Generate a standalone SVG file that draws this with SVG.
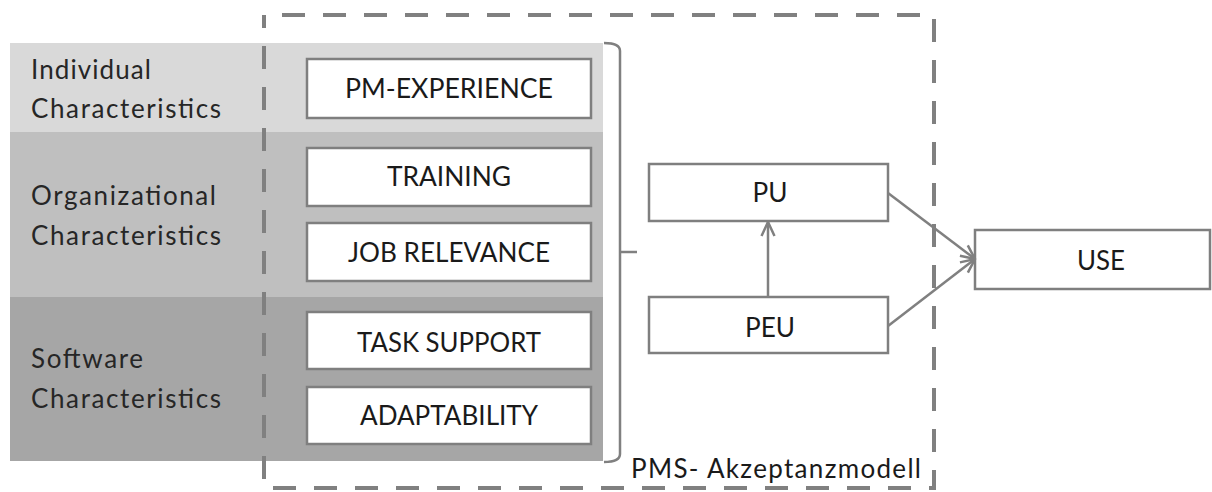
<svg xmlns="http://www.w3.org/2000/svg" width="1212" height="492" viewBox="0 0 1212 492">
  <style>
    text { font-family: Lato, "Open Sans", "Liberation Sans", sans-serif; font-size: 26px; fill: #1a1a1a; }
    .lbl { fill: #262626; }
    .box { fill: #ffffff; stroke: #7f7f7f; stroke-width: 2.5; }
    .c { text-anchor: middle; }
    .edge { fill: none; stroke: #808080; stroke-width: 2.5; }
    .frame { fill: none; stroke: #808080; stroke-width: 4; stroke-dasharray: 23 18; }
  </style>
  <defs>
    <marker id="arrow" viewBox="0 0 16 16" refX="15" refY="8" markerWidth="16" markerHeight="16" markerUnits="userSpaceOnUse" orient="auto">
      <path d="M1,1.5 L15,8 L1,14.5" fill="none" stroke="#808080" stroke-width="2.5"/>
    </marker>
  </defs>

  <!-- grey characteristic bands -->
  <g id="bands">
    <rect x="10" y="43" width="593" height="89" fill="#d9d9d9"/>
    <rect x="10" y="132" width="593" height="165" fill="#bfbfbf"/>
    <rect x="10" y="297" width="593" height="164" fill="#a6a6a6"/>
  </g>

  <g id="label-individual">
    <text class="lbl" x="31" y="79" textLength="120" lengthAdjust="spacing">Individual</text>
    <text class="lbl" x="31" y="118" textLength="190" lengthAdjust="spacing">Characteristics</text>
  </g>
  <g id="label-organizational">
    <text class="lbl" x="31" y="205" textLength="185" lengthAdjust="spacing">Organizational</text>
    <text class="lbl" x="31" y="245" textLength="190" lengthAdjust="spacing">Characteristics</text>
  </g>
  <g id="label-software">
    <text class="lbl" x="31" y="368" textLength="112" lengthAdjust="spacing">Software</text>
    <text class="lbl" x="31" y="408" textLength="190" lengthAdjust="spacing">Characteristics</text>
  </g>

  <!-- dashed model frame -->
  <g id="frame">
    <path class="frame" d="M264,15 L934,15 L934,488 L264,488 Z" stroke-dashoffset="23"/>
    <text x="631" y="478" textLength="290" lengthAdjust="spacing">PMS- Akzeptanzmodell</text>
  </g>

  <g id="pm-experience">
    <rect class="box" x="307" y="59" width="284" height="59"/>
    <text class="c" x="449" y="98" textLength="208" lengthAdjust="spacingAndGlyphs">PM-EXPERIENCE</text>
  </g>
  <g id="training">
    <rect class="box" x="307" y="148" width="284" height="58"/>
    <text class="c" x="449" y="186" textLength="124" lengthAdjust="spacingAndGlyphs">TRAINING</text>
  </g>
  <g id="job-relevance">
    <rect class="box" x="307" y="223" width="284" height="58"/>
    <text class="c" x="449" y="262" textLength="202" lengthAdjust="spacingAndGlyphs">JOB RELEVANCE</text>
  </g>
  <g id="task-support">
    <rect class="box" x="307" y="312" width="284" height="57"/>
    <text class="c" x="449" y="352" textLength="184" lengthAdjust="spacingAndGlyphs">TASK SUPPORT</text>
  </g>
  <g id="adaptability">
    <rect class="box" x="307" y="387" width="284" height="57"/>
    <text class="c" x="449" y="425" textLength="178" lengthAdjust="spacingAndGlyphs">ADAPTABILITY</text>
  </g>

  <g id="pu">
    <rect class="box" x="649" y="164" width="239" height="57"/>
    <text class="c" x="770" y="202" textLength="35" lengthAdjust="spacingAndGlyphs">PU</text>
  </g>
  <g id="peu">
    <rect class="box" x="649" y="297" width="239" height="56"/>
    <text class="c" x="770" y="337" textLength="50" lengthAdjust="spacingAndGlyphs">PEU</text>
  </g>
  <g id="use">
    <rect class="box" x="975" y="230" width="235" height="59"/>
    <text class="c" x="1101" y="270" textLength="48" lengthAdjust="spacingAndGlyphs">USE</text>
  </g>

  <g id="connectors">
    <!-- brace grouping the external variables -->
    <path class="edge" d="M604,43 Q620,43 620,51 L620,454 Q620,462 604,462"/>
    <path class="edge" d="M620,252 L637,252"/>
    <line class="edge" x1="768" y1="297" x2="768" y2="222" marker-end="url(#arrow)"/>
    <line class="edge" x1="888" y1="193" x2="975" y2="259" marker-end="url(#arrow)"/>
    <line class="edge" x1="888" y1="326" x2="975" y2="259" marker-end="url(#arrow)"/>
  </g>
</svg>
